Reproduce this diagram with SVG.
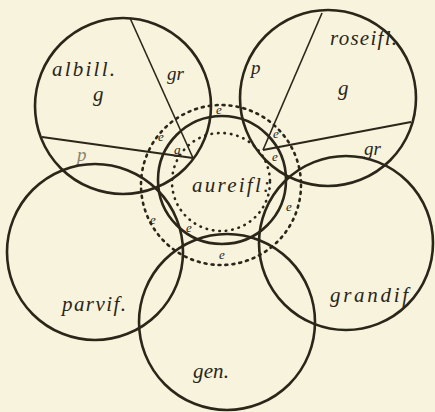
<svg xmlns="http://www.w3.org/2000/svg" width="435" height="412" viewBox="0 0 435 412">
<style>
.c{fill:none;stroke:#2a2619;stroke-width:2.6}
.ch{fill:none;stroke:#2a2619;stroke-width:1.6}
.dot{fill:none;stroke:#2a2619;stroke-width:2.6;stroke-linecap:round;stroke-dasharray:0.5 6}
.dash{fill:none;stroke:#2a2619;stroke-width:2.6;stroke-linecap:round;stroke-dasharray:2 5}
text{font-family:"Liberation Serif","DejaVu Serif",serif;font-style:italic;fill:#2a2619}
.lb{font-size:21px}
.sm{font-size:19px}
.xs{font-size:13px}
.faint{fill:#8a8570}
</style>
<rect width="435" height="412" fill="#f7f3dc"/>
<g id="albill">
<circle class="c" cx="123" cy="106" r="88"/>
<text class="lb" x="52" y="76" textLength="63" lengthAdjust="spacing">albill.</text>
<text class="lb" x="93" y="101">g</text>
<text class="sm" x="167" y="80">gr</text>
<text class="sm faint" x="77" y="161">p</text>
</g>
<g id="roseifl">
<circle class="c" cx="328" cy="98" r="88"/>
<text class="lb" x="330" y="45" textLength="67" lengthAdjust="spacing">roseifl.</text>
<text class="sm" x="251" y="74">p</text>
<text class="lb" x="338" y="95">g</text>
<text class="sm" x="364" y="155">gr</text>
</g>
<g id="parvif">
<circle class="c" cx="95" cy="252" r="88"/>
<text class="lb" x="62" y="311" textLength="64" lengthAdjust="spacing">parvif.</text>
</g>
<g id="grandif">
<circle class="c" cx="346" cy="243" r="87"/>
<text class="lb" x="330" y="302" textLength="78" lengthAdjust="spacing">grandif</text>
</g>
<g id="gen">
<circle class="c" cx="227" cy="322" r="88"/>
<text class="lb" x="193" y="378" textLength="36" lengthAdjust="spacing">gen.</text>
</g>
<g id="aureifl">
<circle class="c" cx="222" cy="180" r="64"/>
<circle class="dot" cx="221" cy="182" r="49"/>
<circle class="dash" cx="221" cy="185" r="80"/>
<text class="lb" x="192" y="192" textLength="78" lengthAdjust="spacing">aureifl:</text>
</g>
<g id="connectors">
<line class="ch" x1="130" y1="18" x2="193" y2="158"/>
<line class="ch" x1="42" y1="137" x2="193" y2="158" style="stroke-width:2.2"/>
<line class="ch" x1="322" y1="13" x2="263" y2="150"/>
<line class="ch" x1="411" y1="122" x2="263" y2="150" style="stroke-width:2.2"/>
</g>
<g id="labels-e">
<text class="xs" x="216" y="114">e</text>
<text class="xs" x="158" y="141">e</text>
<text class="xs" x="174" y="154">g</text>
<text class="xs" x="273" y="138">e</text>
<text class="xs" x="272" y="161">e</text>
<text class="xs" x="286" y="211">e</text>
<text class="xs" x="150" y="224">e</text>
<text class="xs" x="186" y="232">e</text>
<text class="xs" x="219" y="259">e</text>
</g>
</svg>
